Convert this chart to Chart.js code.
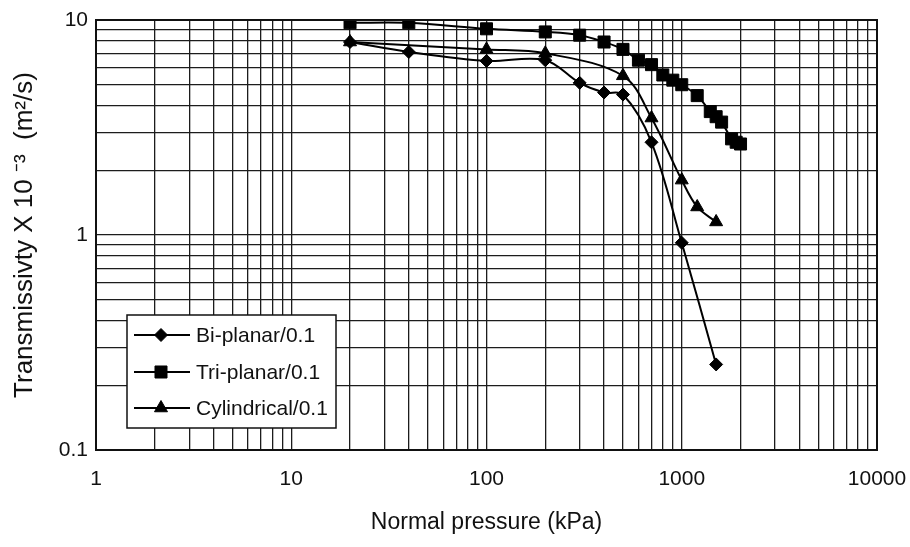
<!DOCTYPE html>
<html>
<head>
<meta charset="utf-8">
<script src="https://cdn.jsdelivr.net/npm/chart.js@4.4.0/dist/chart.umd.min.js"></script>
<style>
  html, body { margin: 0; padding: 0; background: #fff; }
  #wrap { width: 910px; height: 547px; }
</style>
</head>
<body>
<div id="wrap"><canvas id="transmissivity-chart" width="910" height="547"></canvas></div>
<script>
// Normal pressure (kPa) vs transmissivity (x 10^-3 m2/s), one pair of arrays per core
const biPressure = [20, 40, 100, 200, 300, 400, 500, 700, 1000, 1500];
const biTransmissivity = [7.9, 7.1, 6.45, 6.5, 5.1, 4.6, 4.5, 2.7, 0.92, 0.25];

const triPressure = [20, 40, 100, 200, 300, 400, 500, 600, 700, 800, 900, 1000, 1200, 1400, 1500, 1600, 1800, 1900, 2000];
const triTransmissivity = [9.7, 9.7, 9.1, 8.8, 8.5, 7.9, 7.3, 6.5, 6.2, 5.55, 5.25, 5.0, 4.45, 3.75, 3.55, 3.35, 2.8, 2.7, 2.65];

const cylPressure = [20, 100, 200, 500, 700, 1000, 1200, 1500];
const cylTransmissivity = [7.9, 7.3, 7.0, 5.5, 3.5, 1.8, 1.35, 1.15];

const seriesNames = ['Bi-planar/0.1', 'Tri-planar/0.1', 'Cylindrical/0.1'];

const xTickLabels = [1, 10, 100, 1000, 10000];
const yTickLabels = [0.1, 1, 10];
const minorSteps = [1, 2, 3, 4, 5, 6, 7, 8, 9];

const FONT = '"Liberation Sans", Arial, sans-serif';
const INK = '#111';

// grid lines at 1..9 of every decade
const decadeGrid = (labels) => {
  const out = [];
  labels.slice(0, -1).forEach(d => minorSteps.forEach(m => out.push(Number((m * d).toPrecision(6)))));
  out.push(labels[labels.length - 1]);
  return out;
};
const xGrid = decadeGrid(xTickLabels);
const yGrid = decadeGrid(yTickLabels);

const markers = [
  { style: 'rectRot', radius: 6.5 },
  { style: 'rect', radius: 8.5 },
  { style: 'triangle', radius: 7.5 }
];

const makeSeries = (idx, xs, ys) => ({
  label: seriesNames[idx],
  data: xs.map((x, i) => ({ x: x, y: ys[i] })),
  borderColor: '#000',
  backgroundColor: '#000',
  borderWidth: 2,
  pointStyle: markers[idx].style,
  pointRadius: markers[idx].radius,
  pointHoverRadius: markers[idx].radius,
  pointBorderWidth: 1,
  tension: 0.35,
  fill: false
});

// frame + legend box drawn inside the plot, lower left
const boxLegend = {
  id: 'boxLegend',
  afterDraw(chart) {
    const { ctx, chartArea } = chart;
    ctx.save();
    ctx.strokeStyle = INK;
    ctx.lineWidth = 2;
    ctx.strokeRect(chartArea.left, chartArea.top, chartArea.right - chartArea.left, chartArea.bottom - chartArea.top);

    const x0 = chartArea.left + 31, y0 = chartArea.bottom - 135;
    ctx.fillStyle = '#fff';
    ctx.fillRect(x0, y0, 209, 113);
    ctx.lineWidth = 1.5;
    ctx.strokeRect(x0, y0, 209, 113);

    const rows = [20, 57, 93];
    seriesNames.forEach((name, i) => {
      const y = y0 + rows[i];
      ctx.strokeStyle = '#000';
      ctx.lineWidth = 2;
      ctx.beginPath();
      ctx.moveTo(x0 + 7, y);
      ctx.lineTo(x0 + 63, y);
      ctx.stroke();
      ctx.fillStyle = '#000';
      ctx.lineWidth = 1;
      Chart.helpers.drawPoint(ctx, { pointStyle: markers[i].style, radius: markers[i].radius, rotation: 0, borderWidth: 1 }, x0 + 34, y);
      ctx.fillStyle = INK;
      ctx.font = '21px ' + FONT;
      ctx.textBaseline = 'middle';
      ctx.textAlign = 'left';
      ctx.fillText(name, x0 + 69, y + 1);
    });
    ctx.restore();
  }
};

const ctx = document.getElementById('transmissivity-chart').getContext('2d');
new Chart(ctx, {
  type: 'line',
  data: {
    datasets: [
      makeSeries(0, biPressure, biTransmissivity),
      makeSeries(1, triPressure, triTransmissivity),
      makeSeries(2, cylPressure, cylTransmissivity)
    ]
  },
  options: {
    responsive: false,
    animation: false,
    layout: { padding: { left: 0, right: 33, top: 20, bottom: 0 } },
    plugins: {
      legend: { display: false },
      tooltip: { enabled: false }
    },
    scales: {
      x: {
        type: 'logarithmic',
        min: 1,
        max: 10000,
        afterBuildTicks: (s) => { s.ticks = xGrid.map(v => ({ value: v })); },
        afterFit: (s) => { s.height = 97; s.paddingLeft = 0; s.paddingRight = 0; },
        grid: { color: '#1c1c1c', lineWidth: 1.3, drawTicks: false },
        border: { color: INK, width: 2 },
        ticks: {
          autoSkip: false,
          maxRotation: 0,
          padding: 17,
          color: INK,
          font: { family: FONT, size: 21 },
          callback: (v) => xTickLabels.includes(v) ? String(v) : ''
        },
        title: {
          display: true,
          text: 'Normal pressure (kPa)',
          color: INK,
          font: { family: FONT, size: 23 },
          padding: { top: 0, bottom: 11 }
        }
      },
      y: {
        type: 'logarithmic',
        min: 0.1,
        max: 10,
        afterBuildTicks: (s) => { s.ticks = yGrid.map(v => ({ value: v })); },
        afterFit: (s) => { s.width = 96; s.paddingTop = 0; s.paddingBottom = 0; },
        grid: { color: '#1c1c1c', lineWidth: 1.3, drawTicks: false },
        border: { color: INK, width: 2 },
        ticks: {
          autoSkip: false,
          padding: 8,
          color: INK,
          font: { family: FONT, size: 21 },
          callback: (v) => yTickLabels.includes(v) ? String(v) : ''
        },
        title: {
          display: true,
          text: 'Transmissivty X 10 \u207B\u00B3  (m\u00B2/s)',
          color: INK,
          font: { family: FONT, size: 26 },
          padding: { top: 9, bottom: 0 }
        }
      }
    }
  },
  plugins: [boxLegend]
});
</script>
</body>
</html>
